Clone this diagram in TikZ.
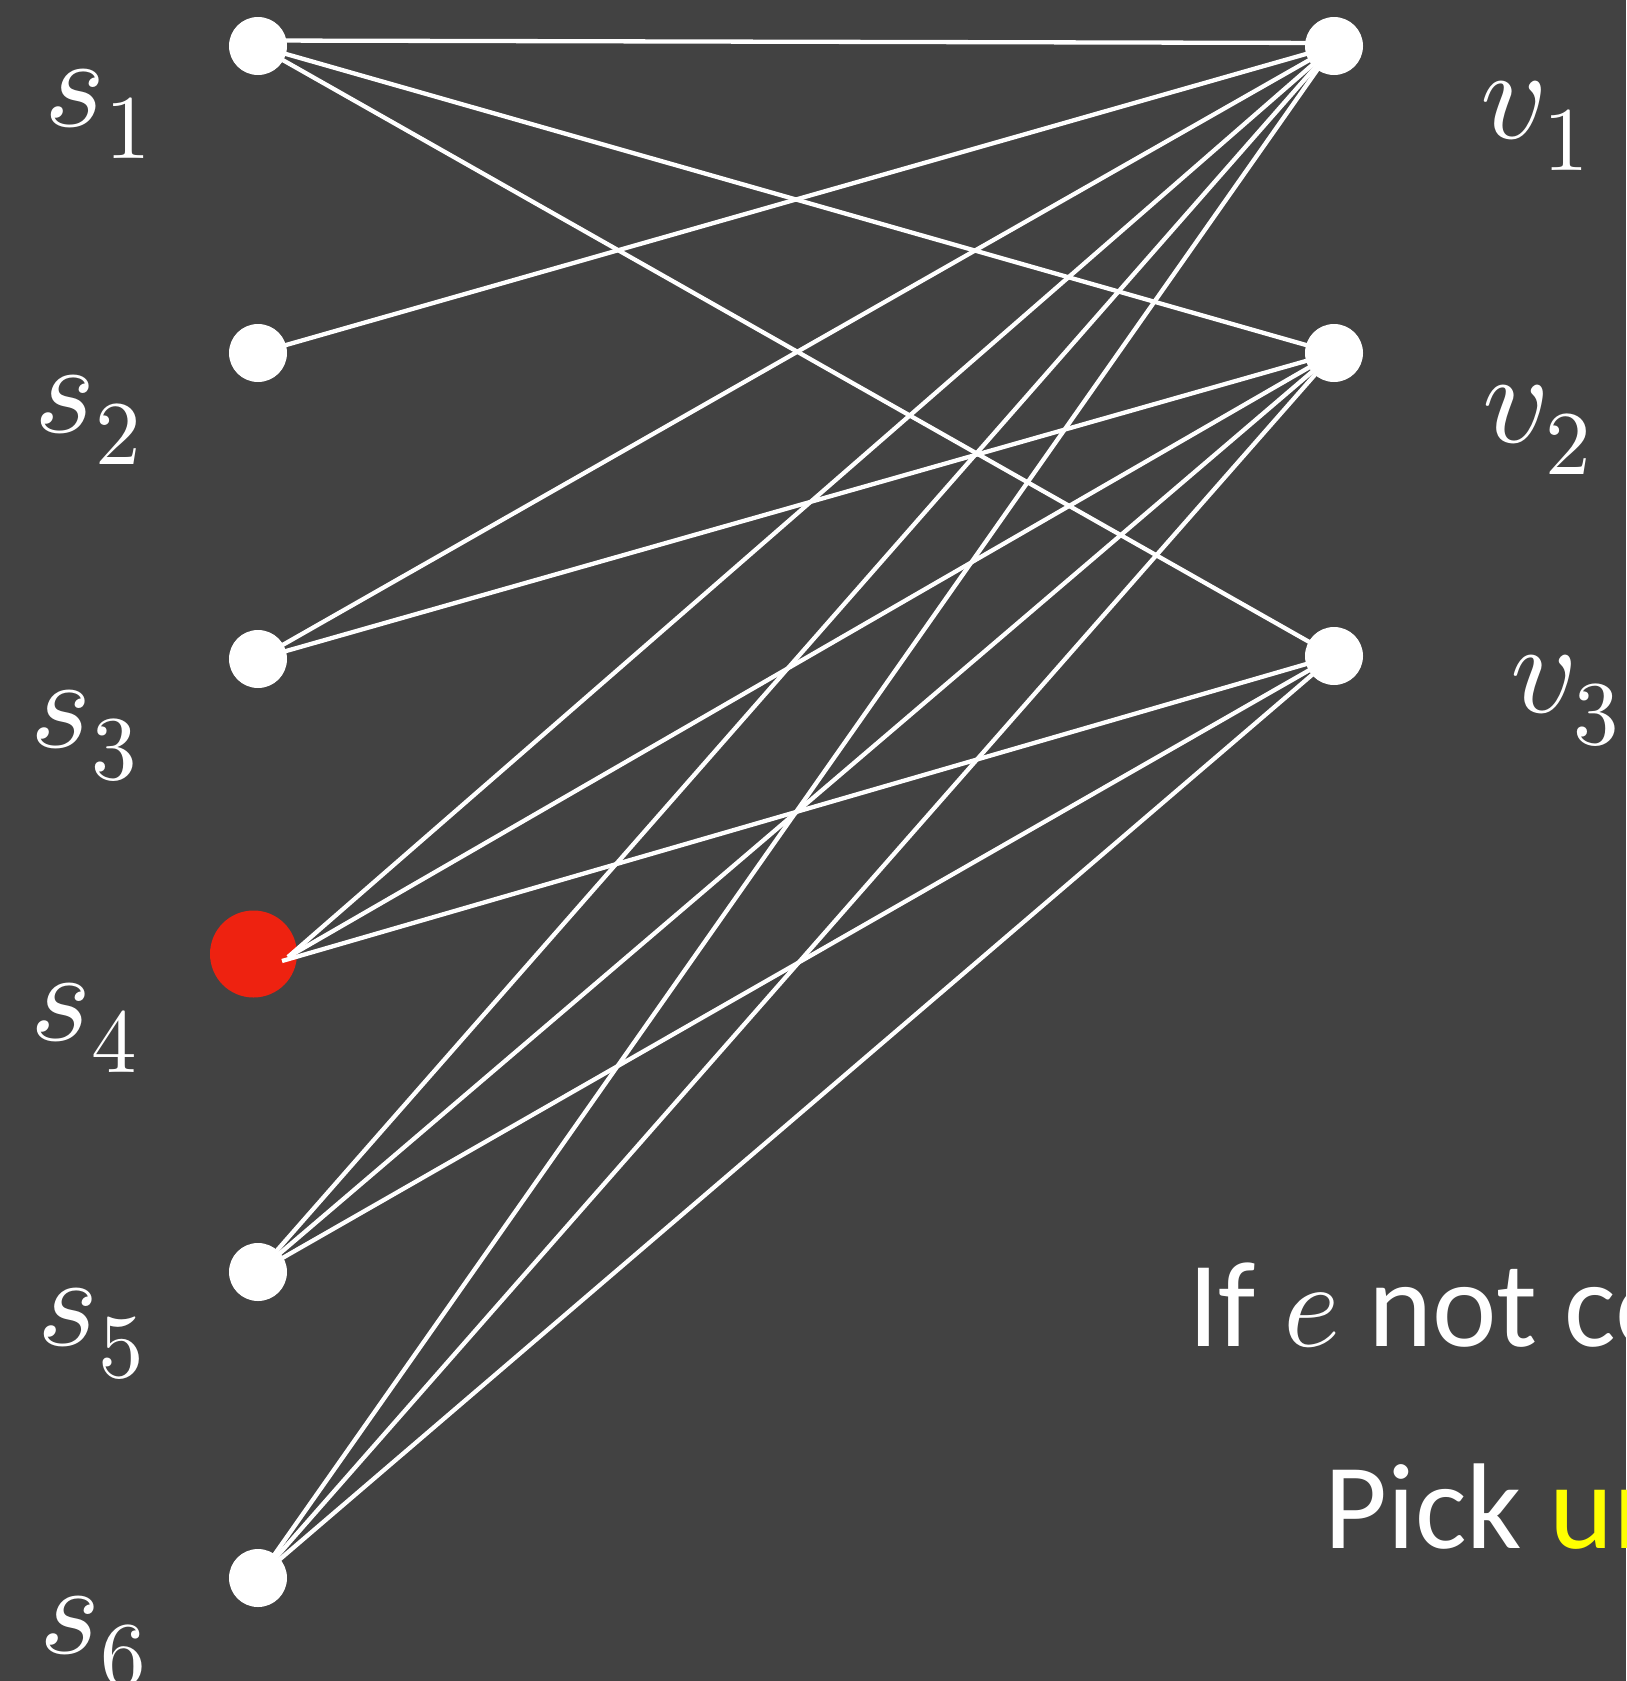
\documentclass[tikz,border=0pt]{standalone}
\usepackage{fontspec}
\usepackage{unicode-math}
\setmainfont{Carlito}
\setmathfont{Latin Modern Math}
\definecolor{bgc}{RGB}{66,66,66}
\definecolor{redc}{RGB}{238,34,16}
\definecolor{yel}{RGB}{255,255,0}
\pgfdeclarelayer{back}
\pgfdeclarelayer{mid}
\pgfsetlayers{back,mid,main}
\tikzset{
  vert/.style={circle, fill=white, minimum size=58pt, inner sep=0pt},
  redv/.style={circle, fill=redc, minimum size=87pt, inner sep=0pt},
  edgeline/.style={white, line width=4.3pt},
  lab/.style={anchor=base west, inner sep=0pt, text=white, font=\fontsize{130}{130}\selectfont},
  txt/.style={anchor=base west, inner sep=0pt, text=white, font=\fontsize{122}{122}\selectfont}
}
\begin{document}
\begin{tikzpicture}[x=1pt,y=-1pt]
\useasboundingbox (0,0) rectangle (1626,1681);
\begin{pgfonlayer}{back}
\fill[bgc] (0,0) rectangle (1626,1681);
\node[redv] (s4) at (253.5,954) {};
\end{pgfonlayer}
\clip (0,0) rectangle (1626,1681);
% left nodes
\node[vert] (s1) at (258,46) {};
\node[vert] (s2) at (258,353) {};
\node[vert] (s3) at (258,659) {};
\coordinate (s4p) at (288,957);
\node[vert] (s5) at (258,1272) {};
\node[vert] (s6) at (258,1578) {};
% right nodes
\node[vert] (v1) at (1334,46) {};
\node[vert] (v2) at (1334,353) {};
\node[vert] (v3) at (1334,656) {};
% edges
\begin{pgfonlayer}{mid}
\draw[edgeline] ([yshift=5.5pt]s1.center) -- ([yshift=3pt]v1.center);
\draw[edgeline] (s1.center) -- (v2.center);
\draw[edgeline] (s1.center) -- (v3.center);
\draw[edgeline] (s2.center) -- (v1.center);
\draw[edgeline] (s3.center) -- (v1.center);
\draw[edgeline] (s3.center) -- (v2.center);
\draw[edgeline] (s4p) -- (v1.center);
\draw[edgeline] (s4p) -- (v2.center);
\draw[edgeline] ([shift={(-6,4)}]s4p) -- (v3.center);
\draw[edgeline] (s5.center) -- (v1.center);
\draw[edgeline] (s5.center) -- (v2.center);
\draw[edgeline] (s5.center) -- (v3.center);
\draw[edgeline] (s6.center) -- (v1.center);
\draw[edgeline] (s6.center) -- (v2.center);
\draw[edgeline] (s6.center) -- (v3.center);
\end{pgfonlayer}
% labels
\node[lab] (ls1) at (44,126) {$s_1$};
\node[lab] (ls2) at (34,432) {$s_2$};
\node[lab] (ls3) at (30,747) {$s_3$};
\node[lab] (ls4) at (30,1040) {$s_4$};
\node[lab] (ls5) at (37,1345) {$s_5$};
\node[lab] (ls6) at (39,1653) {$s_6$};
\node[lab] (lv1) at (1480,138) {$v_1$};
\node[lab] (lv2) at (1482,442) {$v_2$};
\node[lab] (lv3) at (1510,712) {$v_3$};
% text
\node[txt] (t1) at (1188,1346) {If $e$ not co};
\node[txt] (t2) at (1324,1548) {Pick \textcolor{yel}{un}};
\end{tikzpicture}
\end{document}
